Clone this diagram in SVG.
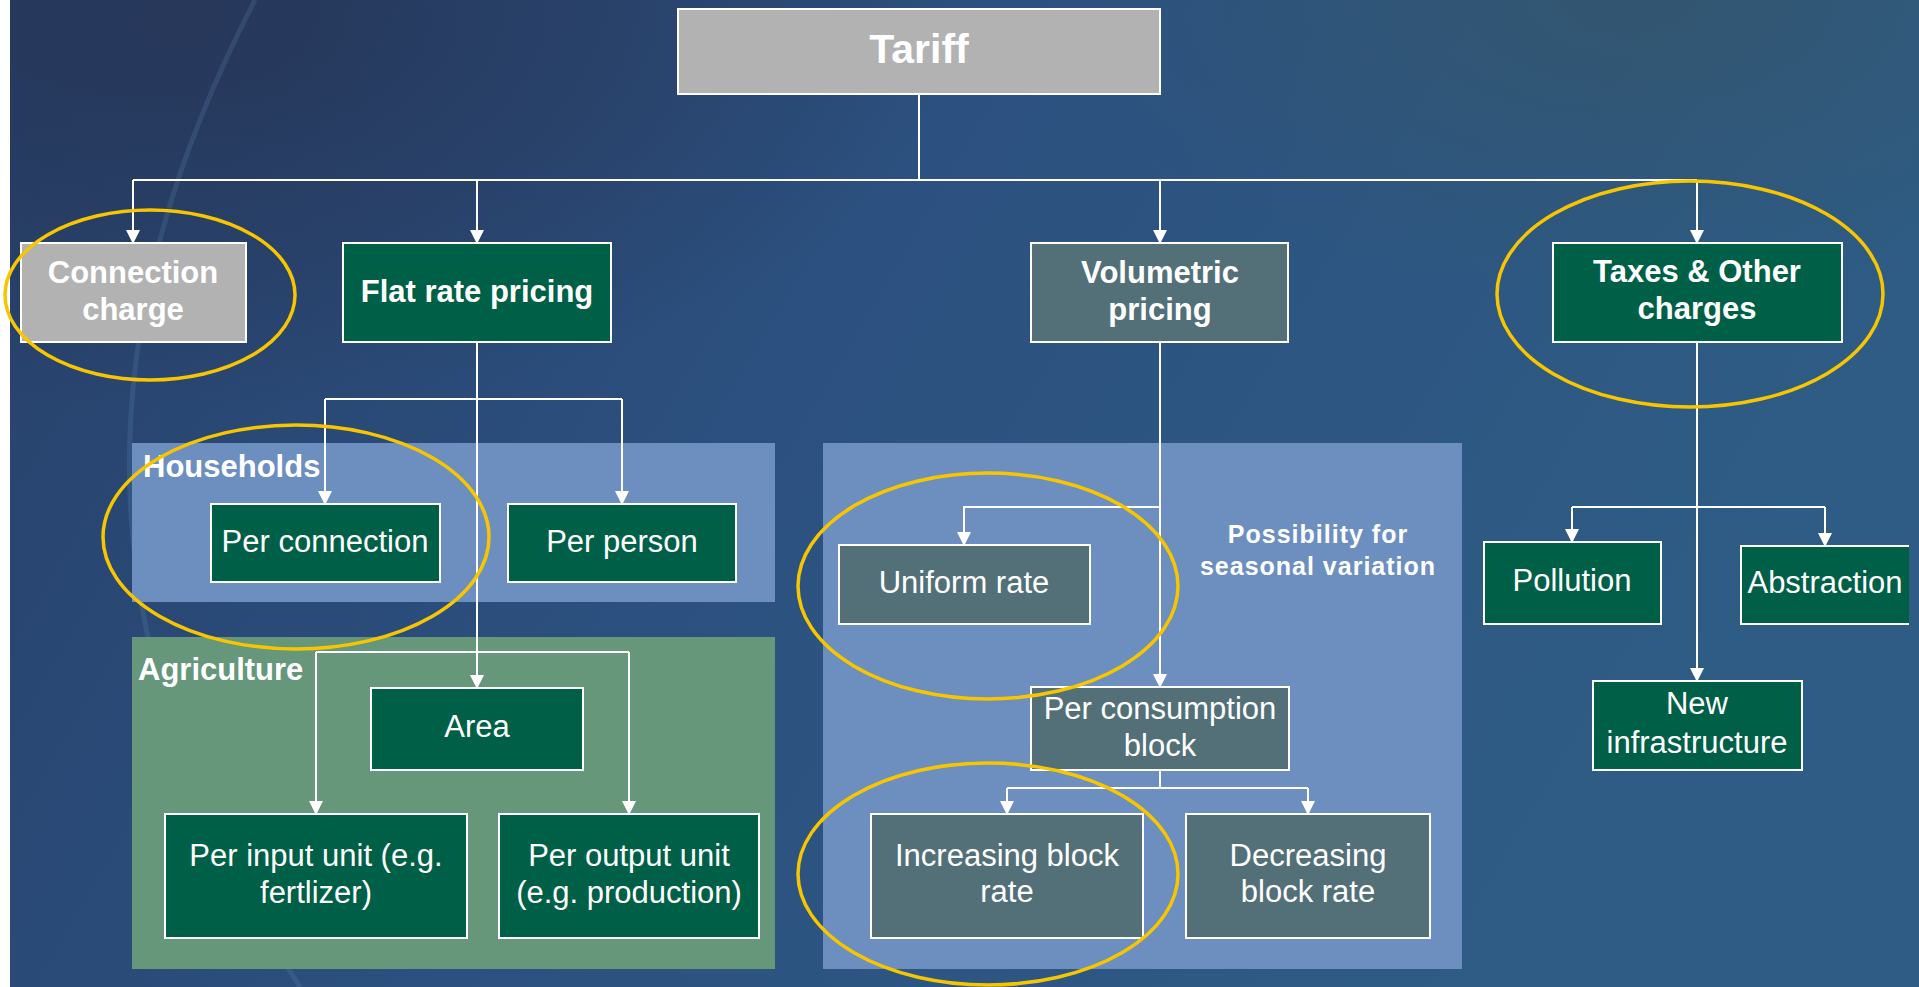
<svg xmlns="http://www.w3.org/2000/svg" width="1919" height="987" viewBox="0 0 1919 987">
<style>
.box{stroke:#ffffff;stroke-width:2}
.gray{fill:#b2b2b2}
.green{fill:#005f47}
.slate{fill:#537079}
.t{font-family:"Liberation Sans",Arial,sans-serif;fill:#ffffff;text-anchor:middle}
.b{font-weight:bold}
.r{font-size:31px}
.bb{font-size:31px;font-weight:bold}
.lab{font-family:"Liberation Sans",Arial,sans-serif;fill:#ffffff;font-size:31px;font-weight:bold}
.con{stroke:#ffffff;stroke-width:2;fill:none}
.ell{fill:none;stroke:#f7c600;stroke-width:3.5}
.panelBlue{fill:#6d8fbf}
.panelGreen{fill:#66977b}
</style>
<defs>
<linearGradient id="bg" x1="0" y1="0" x2="1" y2="0.3">
<stop offset="0" stop-color="#27406a"/>
<stop offset="0.5" stop-color="#2c5180"/>
<stop offset="1" stop-color="#2e5c84"/>
</linearGradient>
<radialGradient id="tl" cx="0.1" cy="0.02" r="0.4">
<stop offset="0" stop-color="#263556" stop-opacity="0.85"/>
<stop offset="1" stop-color="#263556" stop-opacity="0"/>
</radialGradient>
<radialGradient id="tr" cx="0.85" cy="0" r="0.3">
<stop offset="0" stop-color="#34566c" stop-opacity="0.8"/>
<stop offset="1" stop-color="#34566c" stop-opacity="0"/>
</radialGradient>
<marker id="ah" markerWidth="14" markerHeight="14" refX="13" refY="7" orient="auto" markerUnits="userSpaceOnUse">
<path d="M0,0 L14,7 L0,14 z" fill="#ffffff"/>
</marker>
</defs>

<g id="background">
<rect x="0" y="0" width="1919" height="987" fill="url(#bg)"/>
<rect x="0" y="0" width="1919" height="987" fill="url(#tl)"/>
<rect x="0" y="0" width="1919" height="987" fill="url(#tr)"/>
<path d="M255,0 C100,300 60,620 300,987" fill="none" stroke="#6f9cc8" stroke-opacity="0.18" stroke-width="5"/>
<rect x="0" y="0" width="10" height="987" fill="#ffffff"/>
</g>

<g id="panels">
<rect id="households-panel" x="132" y="443" width="643" height="159" class="panelBlue"/>
<rect id="agriculture-panel" x="132" y="637" width="643" height="332" class="panelGreen"/>
<rect id="volumetric-panel" x="823" y="443" width="639" height="526" class="panelBlue"/>
<text class="lab" x="143" y="477">Households</text>
<text class="lab" x="138" y="680">Agriculture</text>
<text class="t b" x="1318" y="543" font-size="25" letter-spacing="1">Possibility for</text>
<text class="t b" x="1318" y="575" font-size="25" letter-spacing="1">seasonal variation</text>
</g>

<g id="connectors">
<path class="con" d="M919,94 V180 M133,180 H1697"/>
<path class="con" marker-end="url(#ah)" d="M133,180 V243"/>
<path class="con" marker-end="url(#ah)" d="M477,180 V243"/>
<path class="con" marker-end="url(#ah)" d="M1160,180 V243"/>
<path class="con" marker-end="url(#ah)" d="M1697,180 V243"/>
<path class="con" marker-end="url(#ah)" d="M477,342 V688"/>
<path class="con" d="M325,399 H622"/>
<path class="con" marker-end="url(#ah)" d="M325,399 V504"/>
<path class="con" marker-end="url(#ah)" d="M622,399 V504"/>
<path class="con" d="M316,652 H629"/>
<path class="con" marker-end="url(#ah)" d="M316,652 V814"/>
<path class="con" marker-end="url(#ah)" d="M629,652 V814"/>
<path class="con" marker-end="url(#ah)" d="M1160,342 V687"/>
<path class="con" marker-end="url(#ah)" d="M1160,507 H964 V545"/>
<path class="con" d="M1160,770 V788 M1007,788 H1308"/>
<path class="con" marker-end="url(#ah)" d="M1007,788 V814"/>
<path class="con" marker-end="url(#ah)" d="M1308,788 V814"/>
<path class="con" marker-end="url(#ah)" d="M1697,342 V681"/>
<path class="con" d="M1572,507 H1825"/>
<path class="con" marker-end="url(#ah)" d="M1572,507 V542"/>
<path class="con" marker-end="url(#ah)" d="M1825,507 V546"/>
</g>

<g id="tariff">
<rect class="box gray" x="678" y="9" width="482" height="85"/>
<text class="t b" x="919" y="63" font-size="41">Tariff</text>
</g>
<g id="connection-charge">
<rect class="box gray" x="21" y="243" width="225" height="99"/>
<text class="t bb" x="133" y="283">Connection</text>
<text class="t bb" x="133" y="320">charge</text>
</g>
<g id="flat-rate-pricing">
<rect class="box green" x="343" y="243" width="268" height="99"/>
<text class="t bb" x="477" y="302">Flat rate pricing</text>
</g>
<g id="volumetric-pricing">
<rect class="box slate" x="1031" y="243" width="257" height="99"/>
<text class="t bb" x="1160" y="283">Volumetric</text>
<text class="t bb" x="1160" y="320">pricing</text>
</g>
<g id="taxes-other-charges">
<rect class="box green" x="1553" y="243" width="289" height="99"/>
<text class="t bb" x="1697" y="282">Taxes &amp; Other</text>
<text class="t bb" x="1697" y="319">charges</text>
</g>
<g id="per-connection">
<rect class="box green" x="211" y="504" width="229" height="78"/>
<text class="t r" x="325" y="552">Per connection</text>
</g>
<g id="per-person">
<rect class="box green" x="508" y="504" width="228" height="78"/>
<text class="t r" x="622" y="552">Per person</text>
</g>
<g id="area">
<rect class="box green" x="371" y="688" width="212" height="82"/>
<text class="t r" x="477" y="737">Area</text>
</g>
<g id="per-input-unit">
<rect class="box green" x="165" y="814" width="302" height="124"/>
<text class="t r" x="316" y="866">Per input unit (e.g.</text>
<text class="t r" x="316" y="903">fertlizer)</text>
</g>
<g id="per-output-unit">
<rect class="box green" x="499" y="814" width="260" height="124"/>
<text class="t r" x="629" y="866">Per output unit</text>
<text class="t r" x="629" y="903">(e.g. production)</text>
</g>
<g id="uniform-rate">
<rect class="box slate" x="839" y="545" width="251" height="79"/>
<text class="t r" x="964" y="593">Uniform rate</text>
</g>
<g id="per-consumption-block">
<rect class="box slate" x="1031" y="687" width="258" height="83"/>
<text class="t r" x="1160" y="719">Per consumption</text>
<text class="t r" x="1160" y="756">block</text>
</g>
<g id="increasing-block-rate">
<rect class="box slate" x="871" y="814" width="272" height="124"/>
<text class="t r" x="1007" y="866">Increasing block</text>
<text class="t r" x="1007" y="902">rate</text>
</g>
<g id="decreasing-block-rate">
<rect class="box slate" x="1186" y="814" width="244" height="124"/>
<text class="t r" x="1308" y="866">Decreasing</text>
<text class="t r" x="1308" y="902">block rate</text>
</g>
<g id="pollution">
<rect class="box green" x="1484" y="542" width="177" height="82"/>
<text class="t r" x="1572" y="591">Pollution</text>
</g>
<g id="abstraction">
<rect class="green" x="1741" y="546" width="168" height="78"/>
<path d="M1909,546 H1741 V624 H1909" fill="none" stroke="#ffffff" stroke-width="2"/>
<text class="t r" x="1825" y="593">Abstraction</text>
</g>
<g id="new-infrastructure">
<rect class="box green" x="1593" y="681" width="209" height="89"/>
<text class="t r" x="1697" y="714">New</text>
<text class="t r" x="1697" y="753">infrastructure</text>
</g>

<g id="highlights">
<ellipse class="ell" cx="150" cy="295" rx="145" ry="85"/>
<ellipse class="ell" cx="296" cy="537" rx="193" ry="112"/>
<ellipse class="ell" cx="988" cy="586" rx="190" ry="113"/>
<ellipse class="ell" cx="988" cy="874" rx="190" ry="111"/>
<ellipse class="ell" cx="1690" cy="294" rx="193" ry="113"/>
</g>
</svg>
